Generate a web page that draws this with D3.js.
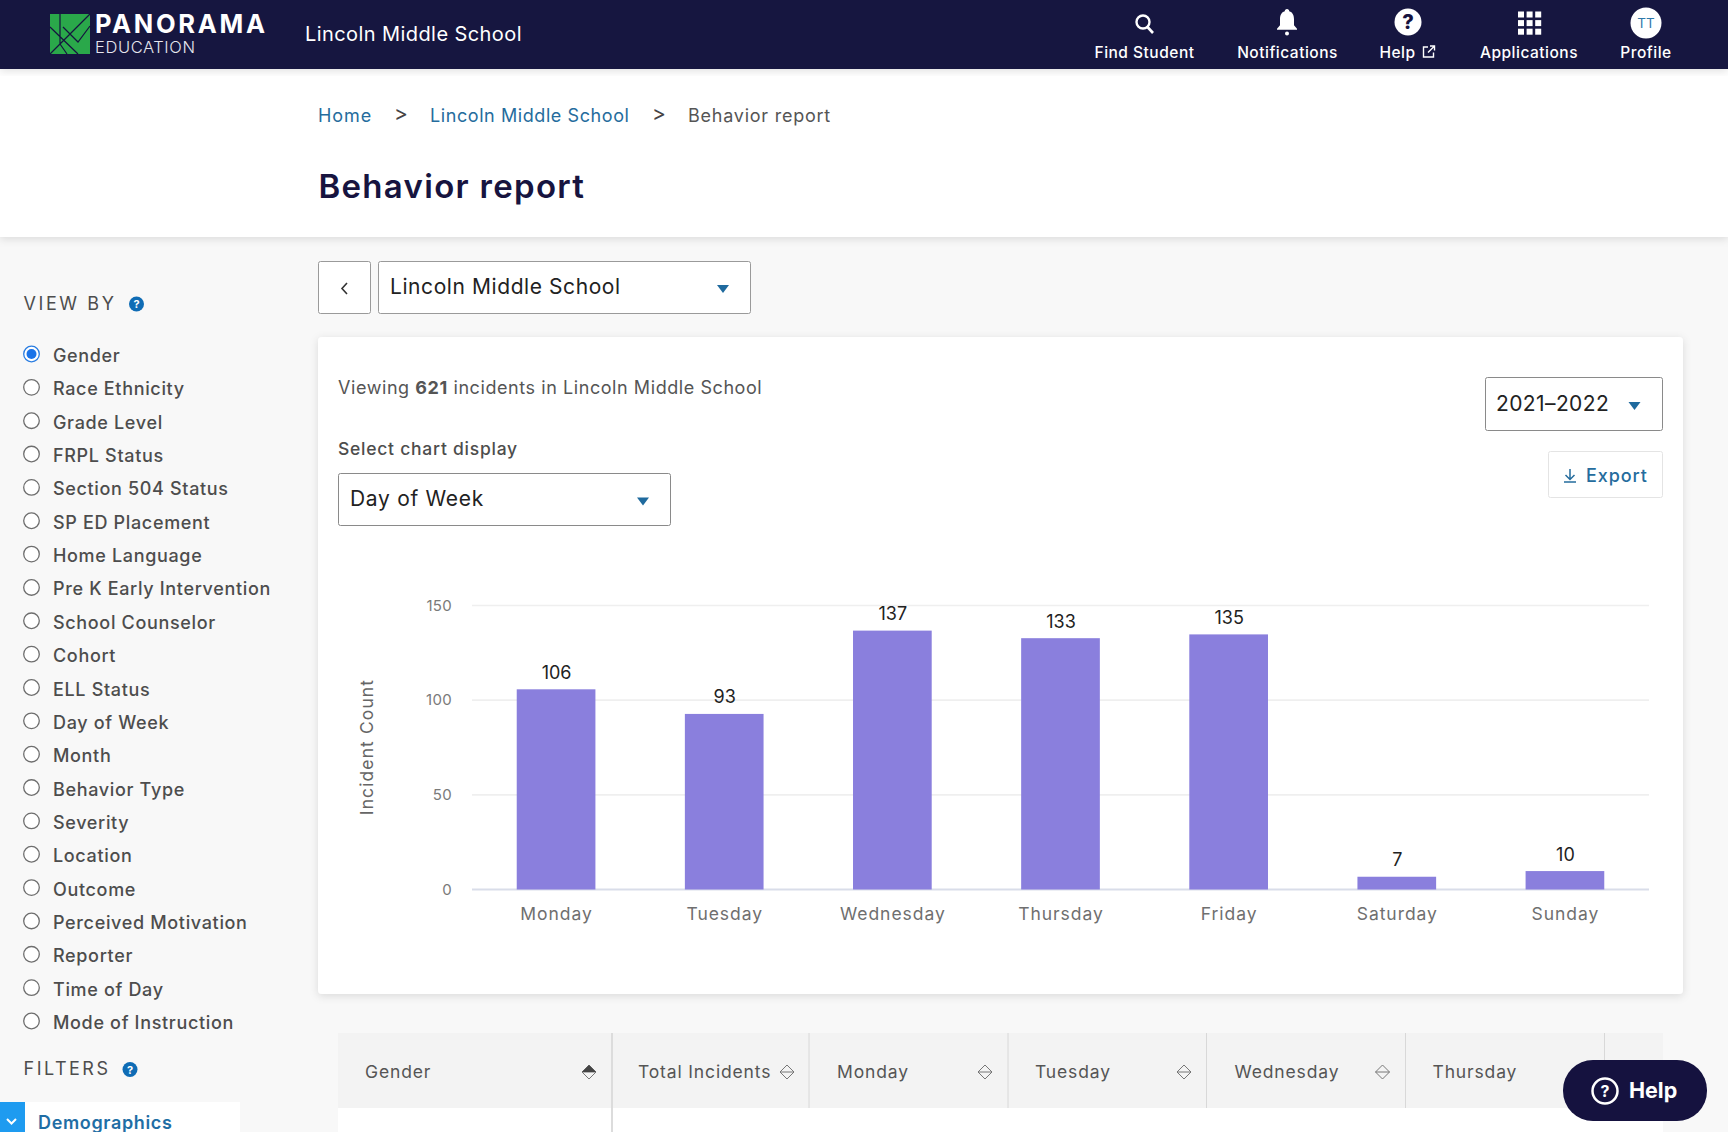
<!DOCTYPE html>
<html>
<head>
<meta charset="utf-8">
<title>Behavior report</title>
<script src="https://cdn.jsdelivr.net/npm/d3@7"></script>
<style>
    html, body { margin: 0; padding: 0; background: #f8f8f8; overflow: hidden; }
    svg { display: block; }
    text { font-family: Inter, "Open Sans", sans-serif; }
    .axis-y text { font-size: 15px; fill: #7a7a7a; letter-spacing: 0.3px; }
    .axis-x text { font-size: 17.5px; fill: #6f6f6f; letter-spacing: 0.95px; }
</style>
</head>
<body>
<script>
let days = ['Monday', 'Tuesday', 'Wednesday', 'Thursday', 'Friday', 'Saturday', 'Sunday'];
let incidents = [106, 93, 137, 133, 135, 7, 10];
let yTicks = [0, 50, 100, 150];
let viewByOptions = ['Gender', 'Race Ethnicity', 'Grade Level', 'FRPL Status', 'Section 504 Status',
    'SP ED Placement', 'Home Language', 'Pre K Early Intervention', 'School Counselor', 'Cohort',
    'ELL Status', 'Day of Week', 'Month', 'Behavior Type', 'Severity', 'Location', 'Outcome',
    'Perceived Motivation', 'Reporter', 'Time of Day', 'Mode of Instruction'];
let navItems = ['Find Student', 'Notifications', 'Help', 'Applications', 'Profile'];
let tableColumns = ['Gender', 'Total Incidents', 'Monday', 'Tuesday', 'Wednesday', 'Thursday'];

let width = 1728,
    height = 1132;

const NAVY = '#15123f',
    LINK = '#256c9d',
    BAR = '#8a7fdd';

let svg = d3.select('body').append('svg')
    .attr('width', width)
    .attr('height', height);

let defs = svg.append('defs');
defs.append('filter').attr('id', 'shadow')
    .attr('x', '-5%').attr('y', '-5%').attr('width', '110%').attr('height', '115%')
    .append('feDropShadow')
    .attr('dx', 0).attr('dy', 2).attr('stdDeviation', 4)
    .attr('flood-color', '#000').attr('flood-opacity', 0.12);

function rect(parent, x0, y0, x1, y1, fill, stroke, r) {
    return parent.append('rect')
        .attr('x', x0).attr('y', y0)
        .attr('width', x1 - x0).attr('height', y1 - y0)
        .attr('rx', r || 0)
        .attr('fill', fill)
        .attr('stroke', stroke || 'none');
}

// spacing is there because Inter runs narrower than the original font
function label(parent, str, x, y, size, color, weight, anchor, spacing) {
    return parent.append('text')
        .attr('x', x).attr('y', y)
        .attr('font-size', size)
        .attr('fill', color)
        .attr('font-weight', weight || 400)
        .attr('text-anchor', anchor || 'start')
        .attr('letter-spacing', spacing || 0)
        .text(str);
}

function caret(parent, cx, cy) {
    parent.append('path')
        .attr('d', `M${cx - 6},${cy - 4}L${cx + 6},${cy - 4}L${cx},${cy + 4}Z`)
        .attr('fill', '#1f6a9e');
}

function questionDot(parent, cx, cy) {
    parent.append('circle').attr('cx', cx).attr('cy', cy).attr('r', 7.5).attr('fill', '#0f6cb5');
    label(parent, '?', cx, cy + 4, 11, '#fff', 700, 'middle');
}

// ---- page background panels ----
rect(svg, 0, 69, width, 237, '#fff').attr('filter', 'url(#shadow)');

// ---- top nav ----
let nav = svg.append('g');
rect(nav, 0, 0, width, 69, NAVY).attr('filter', 'url(#shadow)');

let logo = nav.append('g').attr('transform', 'translate(50,14)');
rect(logo, 0, 0, 40, 40, '#2aa84a');
logo.append('path')
    .attr('d', 'M0,40L40,0M10,0L10,30M0,13L28,40M13,13L28,28L40,12M10,30L17,40')
    .attr('fill', 'none').attr('stroke', NAVY).attr('stroke-width', 1.2);
label(nav, 'PANORAMA', 95, 33, 25.5, '#fff', 700, 'start', 2.7);
label(nav, 'EDUCATION', 95, 53, 16.5, '#e6e6ee', 300, 'start', 0.6);
label(nav, 'Lincoln Middle School', 305, 41, 20, '#fff', 400, 'start', 0.42);

let navX = [1144.5, 1287.5, 1397.5, 1529, 1646];
navItems.forEach((d, i) => {
    label(nav, d, navX[i], 58, 15.5, '#fff', 500, 'middle', 0.5);
});

// search
nav.append('circle').attr('cx', 1143).attr('cy', 22).attr('r', 6.5)
    .attr('fill', 'none').attr('stroke', '#fff').attr('stroke-width', 2.4);
nav.append('line').attr('x1', 1147.5).attr('y1', 27).attr('x2', 1153).attr('y2', 33)
    .attr('stroke', '#fff').attr('stroke-width', 2.6);
// bell
nav.append('path')
    .attr('d', 'M1287,9c1.500,0 2.200,1 2.200,2.200c3.500,1 4.800,4 4.800,8v6l3,3.500v1h-20v-1l3,-3.500v-6c0,-4 1.300,-7 4.800,-8c0,-1.200 .7,-2.200 2.200,-2.200Z')
    .attr('fill', '#fff');
nav.append('circle').attr('cx', 1287).attr('cy', 33.5).attr('r', 2).attr('fill', '#fff');
// help
nav.append('circle').attr('cx', 1408).attr('cy', 22).attr('r', 13.5).attr('fill', '#fff');
label(nav, '?', 1408, 29, 20, NAVY, 800, 'middle');
nav.append('path')
    .attr('d', 'M1428,47h-4.500v10h10v-4.500M1428,52.500L1434.500,46M1430,46h4.500v4.500')
    .attr('fill', 'none').attr('stroke', '#fff').attr('stroke-width', 1.4);
// applications
d3.range(9).forEach(i => {
    rect(nav, 1518 + (i % 3) * 8.600, 11.500 + Math.floor(i / 3) * 8.600, 1518 + (i % 3) * 8.600 + 6, 11.500 + Math.floor(i / 3) * 8.600 + 6, '#fff');
});
// profile
nav.append('circle').attr('cx', 1646).attr('cy', 23).attr('r', 15.5).attr('fill', '#fff');
label(nav, 'TT', 1646, 28, 13.5, '#2f78aa', 400, 'middle');

// ---- breadcrumb + title ----
label(svg, 'Home', 318, 122, 18, LINK, 400, 'start', 0.9);
label(svg, '>', 394, 121, 21, '#444');
label(svg, 'Lincoln Middle School', 430, 122, 18, LINK, 400, 'start', 0.58);
label(svg, '>', 652, 121, 21, '#444');
label(svg, 'Behavior report', 688, 122, 18, '#555', 400, 'start', 0.76);
label(svg, 'Behavior report', 318.5, 198, 33, '#17143f', 600, 'start', 1.3);

// ---- school picker ----
rect(svg, 318.5, 261.5, 370.5, 313.5, '#fff', '#9a9a9a', 2);
svg.append('path').attr('d', 'M347,283l-5,5.500l5,5.500').attr('fill', 'none').attr('stroke', '#333').attr('stroke-width', 1.6);
rect(svg, 378.5, 261.5, 750.5, 313.5, '#fff', '#9a9a9a', 2);
label(svg, 'Lincoln Middle School', 390, 294, 21, '#222', 400, 'start', 0.58);
caret(svg, 723, 289);

// ---- left sidebar ----
let side = svg.append('g');
label(side, 'VIEW BY', 23.5, 310, 18, '#4d4d4d', 400, 'start', 2.6);
questionDot(side, 136.500, 304);

let radios = side.selectAll('g.radio')
    .data(viewByOptions)
    .enter().append('g')
    .attr('class', 'radio')
    .attr('transform', (d, i) => `translate(0,${354 + i * 33.35})`);
radios.append('circle')
    .attr('cx', 31.5).attr('r', 7.800)
    .attr('fill', '#fff')
    .attr('stroke', (d, i) => i === 0 ? '#2a7de1' : '#6e6e6e')
    .attr('stroke-width', 1.3);
radios.filter((d, i) => i === 0).append('circle')
    .attr('cx', 31.5).attr('r', 5).attr('fill', '#1a73e8');
radios.append('text')
    .attr('x', 53).attr('y', 8)
    .attr('font-size', 18).attr('font-weight', 500)
    .attr('letter-spacing', 0.66)
    .attr('fill', '#4d4d4d')
    .text(d => d);

label(side, 'FILTERS', 23.5, 1075, 18, '#4d4d4d', 400, 'start', 2.5);
questionDot(side, 130, 1069.500);
rect(side, 25, 1102, 240, 1132, '#fff');
rect(side, 0, 1102, 25, 1132, '#1e9bf0');
side.append('path').attr('d', 'M7,1119l4.500,4.500l4.500,-4.500').attr('fill', 'none').attr('stroke', '#fff').attr('stroke-width', 2);
label(side, 'Demographics', 38, 1129, 18, '#1f6ea5', 600, 'start', 0.65);

// ---- chart card ----
let card = svg.append('g');
rect(card, 318, 337, 1683, 994, '#fff', null, 4).attr('filter', 'url(#shadow)');

let viewing = label(card, null, 338, 394, 18, '#555', 400, 'start', 0.57);
viewing.append('tspan').text('Viewing ');
viewing.append('tspan').attr('font-weight', 700).text('621');
viewing.append('tspan').text(' incidents in Lincoln Middle School');

label(card, 'Select chart display', 338, 455, 17.5, '#4d4d4d', 500, 'start', 0.75);
rect(card, 338.5, 473.5, 670.5, 525.5, '#fff', '#8a8a8a', 2);
label(card, 'Day of Week', 350, 506, 21, '#222', 400, 'start', 0.7);
caret(card, 643, 501.5);

rect(card, 1485.5, 377.5, 1662.5, 430.5, '#fff', '#8a8a8a', 2);
label(card, '2021–2022', 1496, 411, 21, '#222', 400, 'start', 0.4);
caret(card, 1634.5, 406);

rect(card, 1548.5, 451.5, 1662.5, 497.5, '#fff', '#e4e4e4', 2);
card.append('path')
    .attr('d', 'M1570,469v10M1565.500,475l4.500,4.500l4.500,-4.500M1564,482h12')
    .attr('fill', 'none').attr('stroke', LINK).attr('stroke-width', 1.5);
label(card, 'Export', 1586, 482, 18, LINK, 500, 'start', 0.9);

// ---- bar chart ----
let x = d3.scaleBand()
    .domain(days)
    .range([472, 1649])
    .paddingInner(0.532)
    .paddingOuter(0.266);

let y = d3.scaleLinear()
    .domain([0, 150])
    .range([889.5, 605.5]);

let chart = svg.append('g');

chart.append('g')
    .selectAll('line')
    .data(yTicks)
    .enter().append('line')
    .attr('x1', 472).attr('x2', 1649)
    .attr('y1', d => y(d)).attr('y2', d => y(d))
    .attr('stroke', d => d === 0 ? '#d9dde9' : '#efefef')
    .attr('stroke-width', d => d === 0 ? 2 : 1.6);

let yAxis = chart.append('g')
    .attr('class', 'axis-y')
    .attr('transform', 'translate(452,0)')
    .call(d3.axisLeft(y).tickValues(yTicks).tickSize(0).tickPadding(0));
yAxis.select('.domain').remove();

let xAxis = chart.append('g')
    .attr('class', 'axis-x')
    .attr('transform', 'translate(0.5,907.5)')
    .call(d3.axisBottom(x).tickSize(0).tickPadding(0));
xAxis.select('.domain').remove();

chart.append('text')
    .attr('transform', 'translate(373,747) rotate(-90)')
    .attr('text-anchor', 'middle')
    .attr('font-size', 17.5)
    .attr('letter-spacing', 1.1)
    .attr('fill', '#666')
    .text('Incident Count');

chart.selectAll('rect.bar')
    .data(incidents)
    .enter().append('rect')
    .attr('class', 'bar')
    .attr('x', (d, i) => x(days[i]))
    .attr('y', d => y(d) + 0.5)
    .attr('width', x.bandwidth())
    .attr('height', d => y(0) - y(d) - 0.5)
    .attr('fill', BAR);

chart.selectAll('text.value')
    .data(incidents)
    .enter().append('text')
    .attr('class', 'value')
    .attr('x', (d, i) => x(days[i]) + x.bandwidth() / 2 + 0.5)
    .attr('y', d => y(d) - 10)
    .attr('text-anchor', 'middle')
    .attr('font-size', 18)
    .attr('fill', '#222')
    .text(d => d);

// ---- table header ----
let table = svg.append('g');
rect(table, 338, 1108, 1663, 1132, '#fff');
rect(table, 338, 1033, 1663, 1108, '#f3f3f3');

let dividers = [612, 809, 1008, 1206.5, 1405.5, 1604.5];
dividers.forEach((d, i) => {
    table.append('line')
        .attr('x1', d).attr('x2', d)
        .attr('y1', 1033).attr('y2', i === 0 ? 1132 : 1108)
        .attr('stroke', i === 0 ? '#dcdcdc' : '#d8d8d8')
        .attr('stroke-width', i === 0 ? 2 : 1);
});

let columnX = [365, 638, 837, 1035, 1234.5, 1432.5];
let sortX = [589, 787, 985, 1184, 1382.5];
tableColumns.forEach((d, i) => {
    label(table, d, columnX[i], 1078, 17.5, '#555', 400, 'start', 0.85);
});
sortX.forEach((cx, i) => {
    table.append('path')
        .attr('d', `M${cx - 7},1072L${cx},1065L${cx + 7},1072L${cx},1079Z M${cx - 7},1072H${cx + 7}`)
        .attr('fill', 'none').attr('stroke', '#777').attr('stroke-width', 1);
    if (i === 0) {
        table.append('path')
            .attr('d', `M${cx - 7},1072L${cx},1065L${cx + 7},1072Z`)
            .attr('fill', '#444');
    }
});

// ---- floating help ----
let helpBtn = svg.append('g');
rect(helpBtn, 1563, 1060, 1707, 1121, NAVY, null, 30);
helpBtn.append('circle').attr('cx', 1605).attr('cy', 1091).attr('r', 12.500)
    .attr('fill', 'none').attr('stroke', '#fff').attr('stroke-width', 2.5);
label(helpBtn, '?', 1605, 1097, 16, '#fff', 700, 'middle');
label(helpBtn, 'Help', 1629, 1098, 21.5, '#fff', 700);
</script>
</body>
</html>
